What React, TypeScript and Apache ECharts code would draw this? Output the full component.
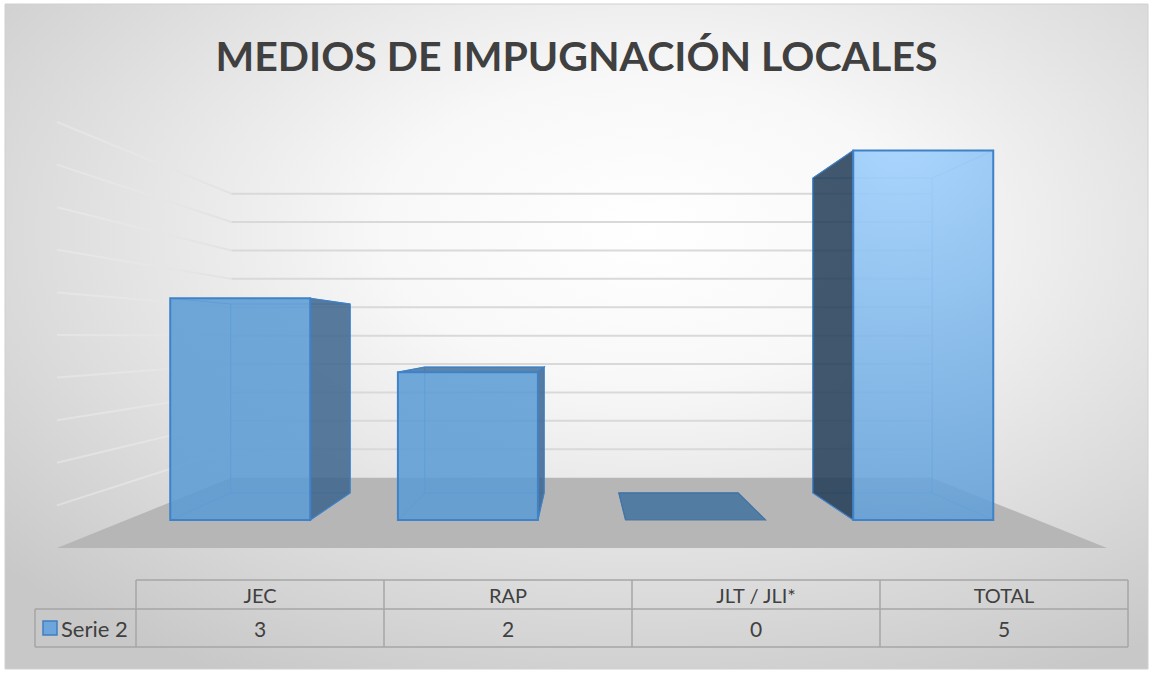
import React, { useEffect, useRef } from "react";
import * as echarts from "echarts";

// ---- data ----
const categories = ["JEC", "RAP", "JLT / JLI*", "TOTAL"];
const serie2 = [3, 2, 0, 5];
const seriesName = "Serie 2";
const gridValues = [0.5, 1, 1.5, 2, 2.5, 3, 3.5, 4, 4.5, 5];
const titleText = "MEDIOS DE IMPUGNACIÓN LOCALES";

// ---- layout / style constants ----
const W = 1153;
const H = 673;
const VP = [580, 337]; // vanishing point
const FLOOR_FRONT = 1;
const FLOOR_BACK = 1.5;
const BAR_FRONT = 1.153;
const BAR_BACK = 1.353;
const BAR_WIDTH = 0.615;
const FONT = "Lato, 'Open Sans', sans-serif";

function proj(x: number, y: number, w: number): number[] {
  return [VP[0] + (x - VP[0]) / w, VP[1] + (y - VP[1]) / w];
}

const frontFill = {
  type: "radial",
  x: 900,
  y: 130,
  r: 430,
  global: true,
  colorStops: [
    { offset: 0, color: "rgba(165,212,255,0.92)" },
    { offset: 1, color: "rgba(91,155,213,0.86)" },
  ],
};

export default function App() {
  const ref = useRef<HTMLDivElement>(null);
  useEffect(() => {
    if (!ref.current) return;
    const chart = echarts.init(ref.current, undefined, { renderer: "svg" });

    const tableLeft = 136;
    const tableRight = 1128;
    const legendLeft = 35;
    const rowTop = 580;
    const rowMid = 609;
    const rowBot = 647;
    const colW = (tableRight - tableLeft) / categories.length;
    const lineStyle = { stroke: "#a6a6a6", lineWidth: 1.5 };
    const tableEls: any[] = [];
    tableEls.push({ type: "line", shape: { x1: tableLeft, y1: rowTop, x2: tableRight, y2: rowTop }, style: lineStyle });
    tableEls.push({ type: "line", shape: { x1: legendLeft, y1: rowMid, x2: tableRight, y2: rowMid }, style: lineStyle });
    tableEls.push({ type: "line", shape: { x1: legendLeft, y1: rowBot, x2: tableRight, y2: rowBot }, style: lineStyle });
    tableEls.push({ type: "line", shape: { x1: legendLeft, y1: rowMid, x2: legendLeft, y2: rowBot }, style: lineStyle });
    for (let i = 0; i <= categories.length; i++) {
      const x = tableLeft + i * colW;
      tableEls.push({ type: "line", shape: { x1: x, y1: rowTop, x2: x, y2: rowBot }, style: lineStyle });
    }
    categories.forEach((c, i) => {
      const cx = tableLeft + (i + 0.5) * colW;
      tableEls.push({
        type: "text",
        x: cx,
        y: (rowTop + rowMid) / 2,
        style: { text: c, fill: "#404040", font: `20px ${FONT}`, align: "center", verticalAlign: "middle" },
      });
      tableEls.push({
        type: "text",
        x: cx,
        y: (rowMid + rowBot) / 2,
        style: { text: String(serie2[i]), fill: "#404040", font: `21px ${FONT}`, align: "center", verticalAlign: "middle" },
      });
    });
    tableEls.push({
      type: "rect",
      shape: { x: 43, y: 621, width: 14, height: 14 },
      style: { fill: "#6ea6dc", stroke: "#3f7fc2", lineWidth: 1.5 },
    });
    tableEls.push({
      type: "text",
      x: 61,
      y: (rowMid + rowBot) / 2,
      style: { text: seriesName, fill: "#404040", font: `22px ${FONT}`, align: "left", verticalAlign: "middle" },
    });

    const option: any = {
      animation: false,
      title: {
        text: titleText,
        left: "center",
        top: 30,
        textStyle: { fontFamily: FONT, fontWeight: "bold", fontSize: 41, color: "#404040" },
      },
      grid: { left: 57, right: W - 1107, top: 122, bottom: H - 548, containLabel: false },
      xAxis: {
        type: "category",
        data: categories,
        show: false,
      },
      yAxis: {
        type: "value",
        min: 0,
        max: 5,
        interval: 0.5,
        show: false,
      },
      graphic: [
        {
          type: "rect",
          z: -100,
          x: 5,
          y: 4,
          scaleX: 1.55,
          shape: { x: 0, y: 0, width: 1143 / 1.55, height: 665 },
          style: {
            fill: {
              type: "radial",
              x: 0.56,
              y: 0.34,
              r: 0.76,
              colorStops: [
                { offset: 0, color: "#ffffff" },
                { offset: 0.3, color: "#f8f8f8" },
                { offset: 1, color: "#c8c8c8" },
              ],
            },
          },
        },
        {
          type: "rect",
          z: 100,
          shape: { x: 5, y: 4, width: 1143, height: 665 },
          style: { fill: "none", stroke: "#d0d0d0", lineWidth: 1 },
        },
        ...tableEls,
      ],
      series: [
        {
          type: "custom",
          name: "walls",
          z: 1,
          silent: true,
          clip: false,
          data: gridValues.map((v) => [0, v]),
          renderItem: (params: any, api: any) => {
            const cs = params.coordSys;
            const y = api.coord([0, api.value(1)])[1];
            const x0 = cs.x;
            const x1 = cs.x + cs.width;
            const a = proj(x0, y, FLOOR_BACK);
            const b = proj(x1, y, FLOOR_BACK);
            const c = proj(x0, y, FLOOR_FRONT);
            return {
              type: "group",
              children: [
                { type: "line", shape: { x1: a[0], y1: a[1], x2: b[0], y2: b[1] }, style: { stroke: "#d9d9d9", lineWidth: 2 } },
                {
                  type: "line",
                  shape: { x1: c[0], y1: c[1], x2: a[0], y2: a[1] },
                  style: {
                    lineWidth: 2,
                    stroke: {
                      type: "linear",
                      x: 0,
                      y: 0,
                      x2: 1,
                      y2: 0,
                      colorStops: [
                        { offset: 0, color: "rgba(236,236,236,0.5)" },
                        { offset: 1, color: "rgba(226,226,226,1)" },
                      ],
                    },
                  },
                },
              ],
            };
          },
        },
        {
          type: "custom",
          name: "floor",
          z: 2,
          silent: true,
          clip: false,
          data: [[0, 0]],
          renderItem: (params: any, api: any) => {
            const cs = params.coordSys;
            const y = api.coord([0, 0])[1];
            const x0 = cs.x;
            const x1 = cs.x + cs.width;
            const pts = [proj(x0, y, FLOOR_FRONT), proj(x1, y, FLOOR_FRONT), proj(x1, y, FLOOR_BACK), proj(x0, y, FLOOR_BACK)];
            return { type: "polygon", shape: { points: pts }, style: { fill: "#b6b6b6" } };
          },
        },
        {
          type: "custom",
          name: seriesName,
          z: 3,
          clip: false,
          data: serie2.map((v, i) => [i, v]),
          renderItem: (params: any, api: any) => {
            const i = api.value(0);
            const v = api.value(1);
            const top = api.coord([i, v]);
            const base = api.coord([i, 0]);
            const half = (api.size([1, 0])[0] * BAR_WIDTH) / 2;
            const xl = top[0] - half;
            const xr = top[0] + half;
            const yt = top[1];
            const yb = base[1];
            const F = BAR_FRONT;
            const B = BAR_BACK;
            const fTL = proj(xl, yt, F), fTR = proj(xr, yt, F), fBR = proj(xr, yb, F), fBL = proj(xl, yb, F);
            const bTL = proj(xl, yt, B), bTR = proj(xr, yt, B), bBR = proj(xr, yb, B), bBL = proj(xl, yb, B);
            const edge = "#3f82c8";
            const inner = { stroke: "rgba(80,150,220,0.75)", lineWidth: 1, fill: "none" };
            const children: any[] = [];
            children.push({ type: "polyline", shape: { points: [bTL, bTR, bBR, bBL, bTL] }, style: inner });
            children.push({ type: "line", shape: { x1: bBL[0], y1: bBL[1], x2: fBL[0], y2: fBL[1] }, style: inner });
            children.push({ type: "line", shape: { x1: bBR[0], y1: bBR[1], x2: fBR[0], y2: fBR[1] }, style: inner });
            children.push({ type: "line", shape: { x1: bTL[0], y1: bTL[1], x2: fTL[0], y2: fTL[1] }, style: inner });
            children.push({ type: "line", shape: { x1: bTR[0], y1: bTR[1], x2: fTR[0], y2: fTR[1] }, style: inner });
            if (v > 0) {
              if (xr < VP[0]) {
                children.push({
                  type: "polygon",
                  shape: { points: [fTR, bTR, bBR, fBR] },
                  style: { fill: "rgba(60,100,140,0.85)", stroke: edge, lineWidth: 1.2 },
                });
              } else if (xl > VP[0]) {
                children.push({
                  type: "polygon",
                  shape: { points: [fTL, bTL, bBL, fBL] },
                  style: { fill: "rgba(35,60,86,0.86)", stroke: edge, lineWidth: 1.2 },
                });
              }
            }
            if (yt > VP[1]) {
              children.push({
                type: "polygon",
                shape: { points: [fTL, fTR, bTR, bTL] },
                style: { fill: "rgba(66,114,160,0.86)", stroke: v > 0 ? edge : "rgba(66,114,160,0.9)", lineWidth: 1.2 },
              });
            }
            if (v > 0) {
              children.push({
                type: "polygon",
                shape: { points: [fTL, fTR, fBR, fBL] },
                style: { fill: frontFill, stroke: edge, lineWidth: 2 },
              });
            }
            return { type: "group", children };
          },
        },
      ],
    };
    chart.setOption(option);
    return () => chart.dispose();
  }, []);
  return (
    <div
      ref={ref}
      style={{ position: "fixed", left: 0, top: 0, width: W, height: H, background: "#ffffff" }}
    />
  );
}
